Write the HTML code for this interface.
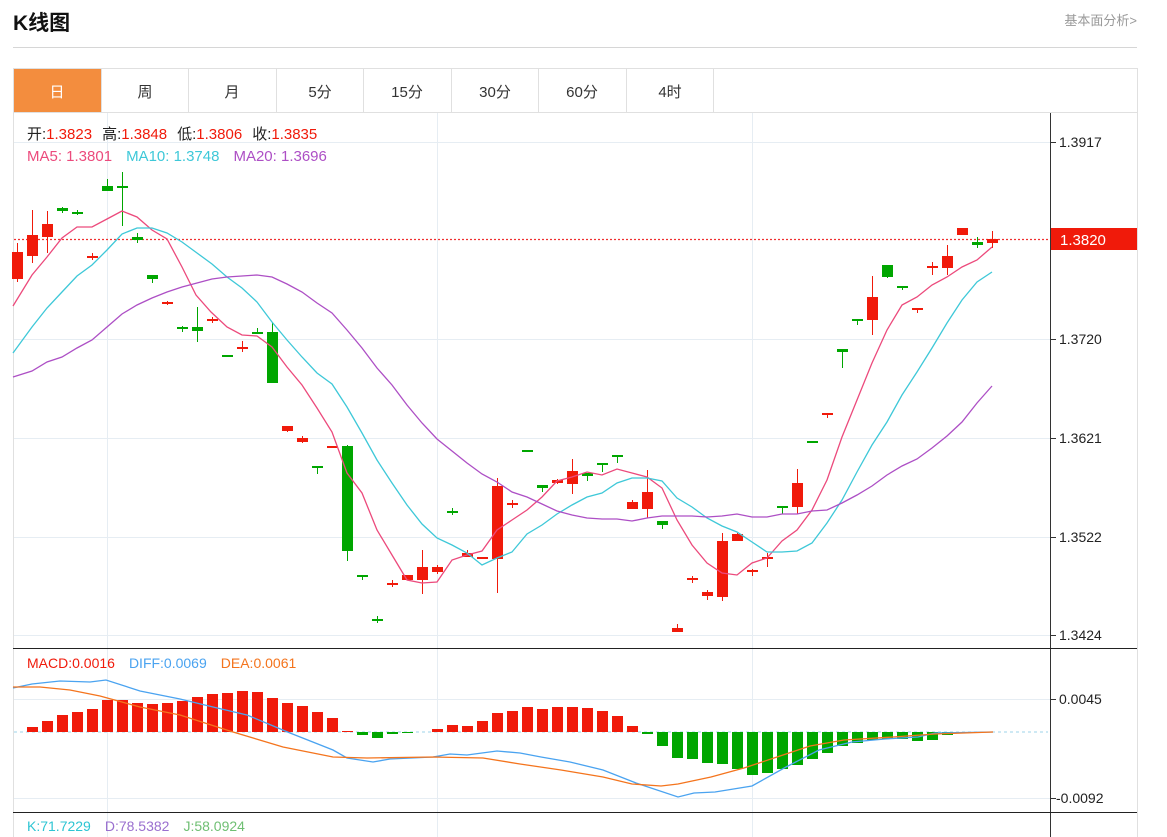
<!DOCTYPE html>
<html><head><meta charset="utf-8"><style>
body{margin:0;background:#fff;width:1167px;height:837px;overflow:hidden;font-family:"Liberation Sans","Noto Sans CJK SC",sans-serif;}
</style></head><body>
<svg width="1167" height="837" xmlns="http://www.w3.org/2000/svg" style="position:absolute;left:0;top:0;font-family:'Liberation Sans','Noto Sans CJK SC',sans-serif">
<text x="13" y="30" font-size="21" font-weight="bold" fill="#111">K线图</text>
<text x="1137" y="25" font-size="13" fill="#999" text-anchor="end">基本面分析&gt;</text>
<rect x="13" y="47" width="1124" height="1" fill="#d6d6d6"/>
<!-- container -->
<rect x="13.5" y="68.5" width="1124" height="780" fill="none" stroke="#e0e0e0"/>
<rect x="13" y="112" width="1124" height="1" fill="#e0e0e0"/>
<rect x="14" y="69" width="87" height="43" fill="#f38d3e"/>
<g fill="#e0e0e0"><rect x="101" y="69" width="1" height="43"/><rect x="188" y="69" width="1" height="43"/><rect x="276" y="69" width="1" height="43"/><rect x="363" y="69" width="1" height="43"/><rect x="451" y="69" width="1" height="43"/><rect x="538" y="69" width="1" height="43"/><rect x="626" y="69" width="1" height="43"/><rect x="713" y="69" width="1" height="43"/></g>
<g font-size="15" text-anchor="middle" fill="#333">
<text x="57" y="97" fill="#fff">日</text><text x="145" y="97">周</text><text x="232" y="97">月</text><text x="320" y="97">5分</text><text x="407" y="97">15分</text><text x="495" y="97">30分</text><text x="582" y="97">60分</text><text x="670" y="97">4时</text>
</g>
<!-- grid -->
<g fill="#e6edf3">
<rect x="14" y="142" width="1036" height="1"/><rect x="14" y="339" width="1036" height="1"/><rect x="14" y="438" width="1036" height="1"/><rect x="14" y="537" width="1036" height="1"/><rect x="14" y="635" width="1036" height="1"/>
<rect x="107" y="113" width="1" height="724"/><rect x="437" y="113" width="1" height="724"/><rect x="752" y="113" width="1" height="724"/>
<rect x="14" y="699" width="1036" height="1"/><rect x="14" y="798" width="1036" height="1"/>
</g>
<rect x="1050" y="113" width="1" height="724" fill="#333"/>
<rect x="13" y="648" width="1124" height="1" fill="#222"/>
<rect x="13" y="812" width="1124" height="1" fill="#222"/>
<g fill="#333"><rect x="1051" y="142" width="5" height="1"/><rect x="1051" y="339" width="5" height="1"/><rect x="1051" y="438" width="5" height="1"/><rect x="1051" y="537" width="5" height="1"/><rect x="1051" y="635" width="5" height="1"/><rect x="1051" y="699" width="5" height="1"/><rect x="1051" y="798" width="5" height="1"/></g>
<g font-size="14" fill="#222">
<text x="1059" y="147">1.3917</text><text x="1059" y="344">1.3720</text><text x="1059" y="443">1.3621</text><text x="1059" y="542">1.3522</text><text x="1059" y="640">1.3424</text>
<text x="1059" y="704">0.0045</text><text x="1056" y="803">-0.0092</text>
</g>
<line x1="14" y1="239.5" x2="1050" y2="239.5" stroke="#f03030" stroke-width="1.3" stroke-dasharray="2,2"/>
<rect x="1051" y="228" width="86" height="22" fill="#f01a0a"/>
<text x="1060" y="245" font-size="15" fill="#fff">1.3820</text>
<!-- info -->
<g font-size="15">
<text x="27" y="139"><tspan fill="#222">开:</tspan><tspan fill="#f01a0a">1.3823</tspan><tspan fill="#222" dx="10">高:</tspan><tspan fill="#f01a0a">1.3848</tspan><tspan fill="#222" dx="10">低:</tspan><tspan fill="#f01a0a">1.3806</tspan><tspan fill="#222" dx="10">收:</tspan><tspan fill="#f01a0a">1.3835</tspan></text>
<text x="27" y="161"><tspan fill="#ec4a7c">MA5: 1.3801</tspan><tspan fill="#3ec8d8" dx="14">MA10: 1.3748</tspan><tspan fill="#ad4fc5" dx="14">MA20: 1.3696</tspan></text>
<text x="27" y="668" font-size="14"><tspan fill="#f01a0a">MACD:0.0016</tspan><tspan fill="#4aa3f0" dx="14">DIFF:0.0069</tspan><tspan fill="#f4741d" dx="14">DEA:0.0061</tspan></text>
<text x="27" y="831" font-size="14"><tspan fill="#2ec5d3">K:71.7229</tspan><tspan fill="#9a6fcf" dx="14">D:78.5382</tspan><tspan fill="#6fbf73" dx="14">J:58.0924</tspan></text>
</g>
<!-- candles -->
<g fill="#f01a0a">
<rect x="17" y="243" width="1" height="39"/><rect x="12" y="252" width="11" height="27"/>
<rect x="32" y="210" width="1" height="53"/><rect x="27" y="235" width="11" height="21"/>
<rect x="47" y="211" width="1" height="42"/><rect x="42" y="224" width="11" height="13"/>
<rect x="92" y="253" width="1" height="7"/><rect x="87" y="256" width="11" height="2"/>
<rect x="167" y="301" width="1" height="4"/><rect x="162" y="302" width="11" height="2"/>
<rect x="212" y="317" width="1" height="6"/><rect x="207" y="319" width="11" height="2"/>
<rect x="242" y="341" width="1" height="11"/><rect x="237" y="347" width="11" height="2"/>
<rect x="287" y="426" width="1" height="6"/><rect x="282" y="426" width="11" height="5"/>
<rect x="302" y="436" width="1" height="7"/><rect x="297" y="438" width="11" height="4"/>
<rect x="327" y="446" width="11" height="2"/>
<rect x="392" y="580" width="1" height="7"/><rect x="387" y="583" width="11" height="2"/>
<rect x="402" y="575" width="11" height="5"/>
<rect x="422" y="550" width="1" height="44"/><rect x="417" y="567" width="11" height="13"/>
<rect x="437" y="565" width="1" height="9"/><rect x="432" y="567" width="11" height="5"/>
<rect x="467" y="550" width="1" height="7"/><rect x="462" y="553" width="11" height="4"/>
<rect x="477" y="557" width="11" height="2"/>
<rect x="497" y="478" width="1" height="115"/><rect x="492" y="486" width="11" height="73"/>
<rect x="512" y="500" width="1" height="8"/><rect x="507" y="503" width="11" height="2"/>
<rect x="557" y="479" width="1" height="5"/><rect x="552" y="480" width="11" height="3"/>
<rect x="572" y="459" width="1" height="35"/><rect x="567" y="471" width="11" height="13"/>
<rect x="632" y="500" width="1" height="9"/><rect x="627" y="502" width="11" height="7"/>
<rect x="647" y="470" width="1" height="48"/><rect x="642" y="492" width="11" height="17"/>
<rect x="677" y="624" width="1" height="8"/><rect x="672" y="628" width="11" height="4"/>
<rect x="692" y="576" width="1" height="7"/><rect x="687" y="578" width="11" height="2"/>
<rect x="707" y="590" width="1" height="10"/><rect x="702" y="592" width="11" height="4"/>
<rect x="722" y="533" width="1" height="68"/><rect x="717" y="541" width="11" height="56"/>
<rect x="737" y="533" width="1" height="8"/><rect x="732" y="534" width="11" height="7"/>
<rect x="752" y="569" width="1" height="7"/><rect x="747" y="570" width="11" height="2"/>
<rect x="767" y="553" width="1" height="14"/><rect x="762" y="557" width="11" height="2"/>
<rect x="797" y="469" width="1" height="45"/><rect x="792" y="483" width="11" height="24"/>
<rect x="827" y="413" width="1" height="5"/><rect x="822" y="413" width="11" height="2"/>
<rect x="872" y="276" width="1" height="59"/><rect x="867" y="297" width="11" height="23"/>
<rect x="917" y="308" width="1" height="5"/><rect x="912" y="308" width="11" height="2"/>
<rect x="932" y="262" width="1" height="13"/><rect x="927" y="266" width="11" height="2"/>
<rect x="947" y="245" width="1" height="30"/><rect x="942" y="256" width="11" height="12"/>
<rect x="957" y="228" width="11" height="7"/>
<rect x="992" y="231" width="1" height="17"/><rect x="987" y="239" width="11" height="4"/>
</g>
<g fill="#00a600">
<rect x="62" y="207" width="1" height="6"/><rect x="57" y="208" width="11" height="3"/>
<rect x="77" y="210" width="1" height="5"/><rect x="72" y="212" width="11" height="2"/>
<rect x="107" y="179" width="1" height="12"/><rect x="102" y="186" width="11" height="5"/>
<rect x="122" y="172" width="1" height="54"/><rect x="117" y="186" width="11" height="2"/>
<rect x="137" y="233" width="1" height="10"/><rect x="132" y="237" width="11" height="3"/>
<rect x="152" y="275" width="1" height="8"/><rect x="147" y="275" width="11" height="4"/>
<rect x="182" y="326" width="1" height="6"/><rect x="177" y="327" width="11" height="2"/>
<rect x="197" y="307" width="1" height="35"/><rect x="192" y="327" width="11" height="4"/>
<rect x="222" y="355" width="11" height="2"/>
<rect x="257" y="328" width="1" height="6"/><rect x="252" y="332" width="11" height="2"/>
<rect x="272" y="322" width="1" height="61"/><rect x="267" y="332" width="11" height="51"/>
<rect x="317" y="466" width="1" height="8"/><rect x="312" y="466" width="11" height="2"/>
<rect x="347" y="445" width="1" height="116"/><rect x="342" y="446" width="11" height="105"/>
<rect x="362" y="575" width="1" height="5"/><rect x="357" y="575" width="11" height="2"/>
<rect x="377" y="616" width="1" height="7"/><rect x="372" y="619" width="11" height="2"/>
<rect x="452" y="508" width="1" height="7"/><rect x="447" y="511" width="11" height="2"/>
<rect x="522" y="450" width="11" height="2"/>
<rect x="542" y="485" width="1" height="7"/><rect x="537" y="485" width="11" height="3"/>
<rect x="587" y="473" width="1" height="8"/><rect x="582" y="473" width="11" height="3"/>
<rect x="602" y="463" width="1" height="9"/><rect x="597" y="463" width="11" height="2"/>
<rect x="617" y="455" width="1" height="8"/><rect x="612" y="455" width="11" height="2"/>
<rect x="662" y="521" width="1" height="8"/><rect x="657" y="521" width="11" height="4"/>
<rect x="782" y="506" width="1" height="8"/><rect x="777" y="506" width="11" height="2"/>
<rect x="807" y="441" width="11" height="2"/>
<rect x="842" y="349" width="1" height="19"/><rect x="837" y="349" width="11" height="3"/>
<rect x="857" y="319" width="1" height="6"/><rect x="852" y="319" width="11" height="2"/>
<rect x="887" y="265" width="1" height="13"/><rect x="882" y="265" width="11" height="12"/>
<rect x="902" y="286" width="1" height="4"/><rect x="897" y="286" width="11" height="2"/>
<rect x="977" y="237" width="1" height="11"/><rect x="972" y="242" width="11" height="3"/>
</g>
<!-- MA lines -->
<g fill="none" stroke-width="1.3">
<polyline stroke="#ec4a7c" points="13,306 32,275 47,257 62,238 77,227 92,227 107,219 122,211 137,217 152,230 167,239 182,267 196,295 211,312 227,327 242,335 257,336 272,347 287,367 302,385 317,408 332,432 347,473 362,493 377,530 392,555 407,580 422,583 437,582 452,560 467,555 482,551 497,530 512,520 527,510 542,497 557,481 572,477 587,472 602,475 617,469 632,473 647,477 662,488 677,520 692,545 707,563 722,573 737,575 752,563 767,558 782,541 797,530 812,510 827,480 842,437 857,400 872,363 887,330 902,305 917,297 932,285 947,277 962,267 977,260 992,247"/>
<polyline stroke="#3ec8d8" points="13,353 32,327 47,308 62,292 77,276 92,265 107,250 122,234 137,228 152,228 167,233 182,242 197,253 212,264 227,277 242,288 257,302 272,322 287,340 302,357 317,373 332,384 347,407 362,433 377,460 392,483 407,505 422,524 437,538 452,545 467,553 482,565 497,558 512,552 527,534 542,525 557,514 572,505 587,497 602,493 617,483 632,478 647,478 662,481 677,498 692,507 707,518 722,526 737,532 752,542 767,552 782,552 797,551 812,543 827,523 842,500 857,472 872,445 887,422 902,395 917,372 932,348 947,323 962,300 977,282 992,272"/>
<polyline stroke="#ad4fc5" points="13,377 32,371 47,362 62,357 77,348 92,340 107,327 122,314 137,305 152,298 167,292 182,287 197,283 212,279 227,277 242,276 257,275 272,277 287,284 302,292 317,303 332,313 347,330 362,348 377,368 392,385 407,405 422,423 437,439 452,451 467,463 482,474 497,482 512,492 527,497 542,504 557,511 572,515 587,518 602,519 617,519 632,521 647,518 662,516 677,516 692,516 707,517 722,516 737,514 752,517 767,517 782,514 797,514 812,511 827,510 842,503 857,495 872,486 887,475 902,466 917,459 932,448 947,436 962,422 977,403 992,386"/>
</g>
<!-- MACD -->
<line x1="14" y1="732" x2="1048" y2="732" stroke="#9dd3ea" stroke-width="1" stroke-dasharray="3,3"/>
<g fill="#f01a0a">
<rect x="27" y="727" width="11" height="5"/><rect x="42" y="721" width="11" height="11"/><rect x="57" y="715" width="11" height="17"/><rect x="72" y="712" width="11" height="20"/><rect x="87" y="709" width="11" height="23"/><rect x="102" y="700" width="11" height="32"/><rect x="117" y="700" width="11" height="32"/><rect x="132" y="703" width="11" height="29"/><rect x="147" y="704" width="11" height="28"/><rect x="162" y="703" width="11" height="29"/><rect x="177" y="701" width="11" height="31"/><rect x="192" y="697" width="11" height="35"/><rect x="207" y="694" width="11" height="38"/><rect x="222" y="693" width="11" height="39"/><rect x="237" y="691" width="11" height="41"/><rect x="252" y="692" width="11" height="40"/><rect x="267" y="698" width="11" height="34"/><rect x="282" y="703" width="11" height="29"/><rect x="297" y="706" width="11" height="26"/><rect x="312" y="712" width="11" height="20"/><rect x="327" y="718" width="11" height="14"/><rect x="342" y="731" width="11" height="1"/>
<rect x="432" y="729" width="11" height="3"/><rect x="447" y="725" width="11" height="7"/><rect x="462" y="726" width="11" height="6"/><rect x="477" y="721" width="11" height="11"/><rect x="492" y="713" width="11" height="19"/><rect x="507" y="711" width="11" height="21"/><rect x="522" y="707" width="11" height="25"/><rect x="537" y="709" width="11" height="23"/><rect x="552" y="707" width="11" height="25"/><rect x="567" y="707" width="11" height="25"/><rect x="582" y="708" width="11" height="24"/><rect x="597" y="711" width="11" height="21"/><rect x="612" y="716" width="11" height="16"/><rect x="627" y="726" width="11" height="6"/>
</g>
<g fill="#00a600">
<rect x="357" y="732" width="11" height="3"/><rect x="372" y="732" width="11" height="6"/><rect x="387" y="732" width="11" height="2"/><rect x="402" y="732" width="11" height="1"/>
<rect x="642" y="732" width="11" height="2"/><rect x="657" y="732" width="11" height="14"/><rect x="672" y="732" width="11" height="26"/><rect x="687" y="732" width="11" height="27"/><rect x="702" y="732" width="11" height="31"/><rect x="717" y="732" width="11" height="32"/><rect x="732" y="732" width="11" height="37"/><rect x="747" y="732" width="11" height="43"/><rect x="762" y="732" width="11" height="41"/><rect x="777" y="732" width="11" height="37"/><rect x="792" y="732" width="11" height="33"/><rect x="807" y="732" width="11" height="27"/><rect x="822" y="732" width="11" height="21"/><rect x="837" y="732" width="11" height="14"/><rect x="852" y="732" width="11" height="11"/><rect x="867" y="732" width="11" height="8"/><rect x="882" y="732" width="11" height="7"/><rect x="897" y="732" width="11" height="7"/><rect x="912" y="732" width="11" height="9"/><rect x="927" y="732" width="11" height="8"/><rect x="942" y="732" width="11" height="3"/><rect x="957" y="732" width="11" height="1"/>
</g>
<g fill="none" stroke-width="1.3">
<polyline stroke="#4aa3f0" points="13,688 32,684 60,681 90,682 106,680 140,691 180,699 213,707 247,715 290,733 333,750 347,758 373,762 390,759 433,757 450,754 467,755 497,751 520,753 541,757 570,762 603,770 636,783 678,797 694,793 715,792 752,786 786,767 819,750 852,742 885,739 918,737 935,733 993,732"/>
<polyline stroke="#f4741d" points="13,687 40,687 70,690 100,696 140,707 180,715 233,732 283,747 333,757 367,758 433,757 483,758 520,764 561,770 603,777 632,784 661,786 678,784 711,777 744,768 777,757 810,746 844,740 893,737 935,734 993,732"/>
</g>
</svg>
</body></html>
